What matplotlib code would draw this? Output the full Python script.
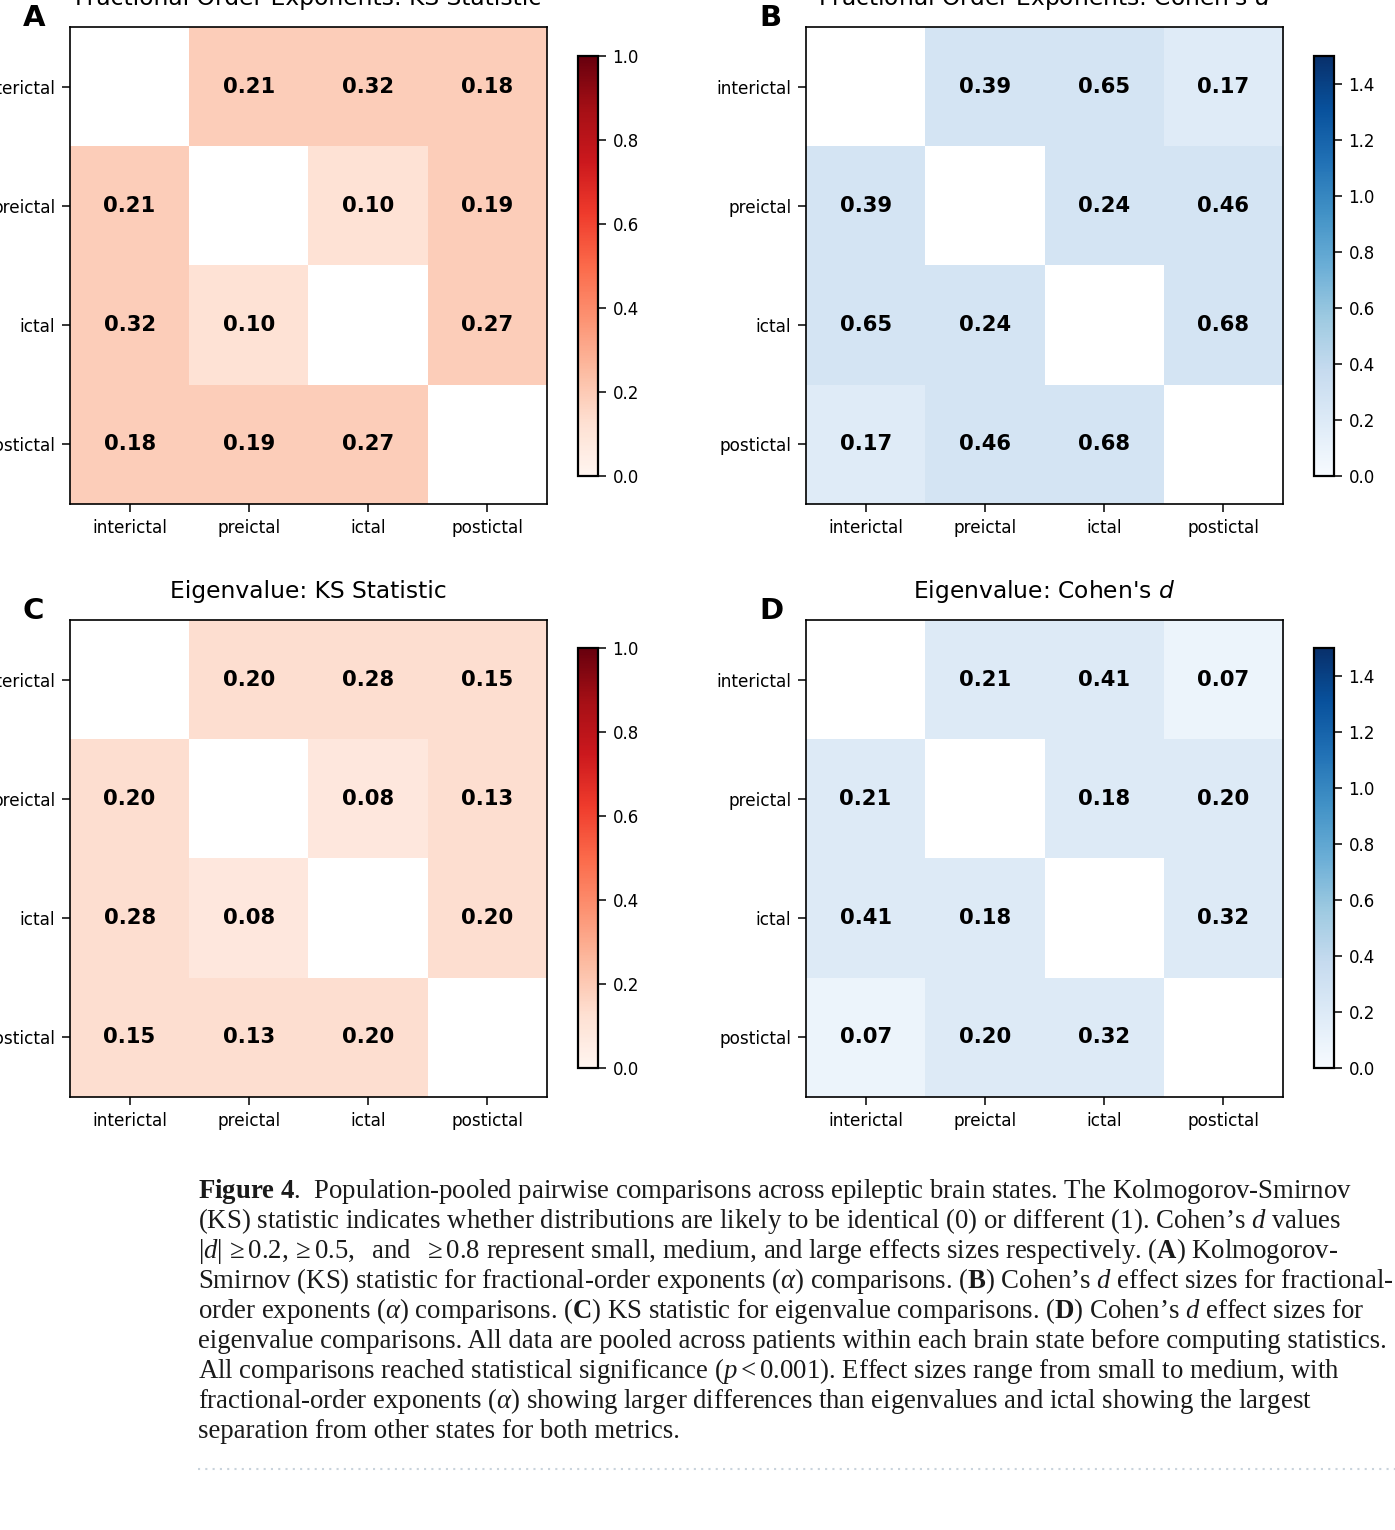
import numpy as np
import matplotlib
matplotlib.use("Agg")
import matplotlib.pyplot as plt
from matplotlib.lines import Line2D

# ---------------- data ----------------
states = ["interictal", "preictal", "ictal", "postictal"]
nan = np.nan

# annotated values
alpha_ks = [[nan, 0.21, 0.32, 0.18],
            [0.21, nan, 0.10, 0.19],
            [0.32, 0.10, nan, 0.27],
            [0.18, 0.19, 0.27, nan]]
alpha_d = [[nan, 0.39, 0.65, 0.17],
           [0.39, nan, 0.24, 0.46],
           [0.65, 0.24, nan, 0.68],
           [0.17, 0.46, 0.68, nan]]
eig_ks = [[nan, 0.20, 0.28, 0.15],
          [0.20, nan, 0.08, 0.13],
          [0.28, 0.08, nan, 0.20],
          [0.15, 0.13, 0.20, nan]]
eig_d = [[nan, 0.21, 0.41, 0.07],
         [0.21, nan, 0.18, 0.20],
         [0.41, 0.18, nan, 0.32],
         [0.07, 0.20, 0.32, nan]]

# cell colour levels as they appear in the picture (on each colorbar's scale)
alpha_ks_shade = [[nan, 0.19, 0.19, 0.19],
                  [0.19, nan, 0.11, 0.19],
                  [0.19, 0.11, nan, 0.19],
                  [0.19, 0.19, 0.19, nan]]
alpha_d_shade = [[nan, 0.26, 0.26, 0.18],
                 [0.26, nan, 0.26, 0.26],
                 [0.26, 0.26, nan, 0.26],
                 [0.18, 0.26, 0.26, nan]]
eig_ks_shade = [[nan, 0.13, 0.13, 0.13],
                [0.13, nan, 0.08, 0.13],
                [0.13, 0.08, nan, 0.13],
                [0.13, 0.13, 0.13, nan]]
eig_d_shade = [[nan, 0.19, 0.19, 0.08],
               [0.19, nan, 0.19, 0.19],
               [0.19, 0.19, nan, 0.19],
               [0.08, 0.19, 0.19, nan]]

ks_ticks = [0.0, 0.2, 0.4, 0.6, 0.8, 1.0]
d_ticks = [0.0, 0.2, 0.4, 0.6, 0.8, 1.0, 1.2, 1.4]

caption_lines = [
    r"$\mathbf{Figure\ 4}$.  Population-pooled pairwise comparisons across epileptic brain states. The Kolmogorov-Smirnov",
    r"(KS) statistic indicates whether distributions are likely to be identical (0) or different (1). Cohen’s $d$ values",
    r"$|d|\,\geq 0.2, \geq 0.5,$  and  $\geq 0.8$ represent small, medium, and large effects sizes respectively. ($\mathbf{A}$) Kolmogorov-",
    r"Smirnov (KS) statistic for fractional-order exponents ($\alpha$) comparisons. ($\mathbf{B}$) Cohen’s $d$ effect sizes for fractional-",
    r"order exponents ($\alpha$) comparisons. ($\mathbf{C}$) KS statistic for eigenvalue comparisons. ($\mathbf{D}$) Cohen’s $d$ effect sizes for",
    r"eigenvalue comparisons. All data are pooled across patients within each brain state before computing statistics.",
    r"All comparisons reached statistical significance ($p < 0.001$). Effect sizes range from small to medium, with",
    r"fractional-order exponents ($\alpha$) showing larger differences than eigenvalues and ictal showing the largest",
    r"separation from other states for both metrics.",
]

# ---------------- figure ----------------
plt.rcParams["mathtext.rm"] = "Liberation Serif"
plt.rcParams["mathtext.it"] = "Liberation Serif:italic"
plt.rcParams["mathtext.bf"] = "Liberation Serif:bold"

W, H = 1395, 1530
fig = plt.figure(figsize=(W / 100, H / 100), dpi=100)
fig.patch.set_facecolor("white")


def rect(x0, y0, x1, y1):
    return [x0 / W, 1 - y1 / H, (x1 - x0) / W, (y1 - y0) / H]


panels = [
    ("A", "Fractional Order Exponents: KS Statistic", alpha_ks, alpha_ks_shade, "Reds", 1.0, ks_ticks,
     (70, 27, 547, 504), (578, 56, 598, 476), (23, 26)),
    ("B", "Fractional Order Exponents: Cohen's $d$", alpha_d, alpha_d_shade, "Blues", 1.5, d_ticks,
     (806, 27, 1283, 504), (1314, 56, 1334, 476), (759, 26)),
    ("C", "Eigenvalue: KS Statistic", eig_ks, eig_ks_shade, "Reds", 1.0, ks_ticks,
     (70, 620, 547, 1097), (578, 648, 598, 1068), (23, 619)),
    ("D", "Eigenvalue: Cohen's $d$", eig_d, eig_d_shade, "Blues", 1.5, d_ticks,
     (806, 620, 1283, 1097), (1314, 648, 1334, 1068), (759, 619)),
]

for letter, title, vals, shade, cmap_name, vmax, cticks, apos, cpos, lpos in panels:
    ax = fig.add_axes(rect(*apos))
    cmap = plt.get_cmap(cmap_name).copy()
    cmap.set_bad("white")
    data = np.ma.masked_invalid(np.array(shade, dtype=float))
    im = ax.imshow(data, cmap=cmap, vmin=0, vmax=vmax, aspect="auto", interpolation="nearest")
    v = np.array(vals, dtype=float)
    for i in range(len(states)):
        for j in range(len(states)):
            if not np.isnan(v[i, j]):
                ax.text(j, i, f"{v[i, j]:.2f}", ha="center", va="center",
                        fontsize=15.2, fontweight="bold", color="black")
    ax.set_xticks(range(len(states)))
    ax.set_yticks(range(len(states)))
    ax.set_xticklabels(states, fontsize=12.2)
    ax.set_yticklabels(states, fontsize=12.2)
    ax.tick_params(length=5.5, width=1.1, pad=5, colors="black")
    for s in ax.spines.values():
        s.set_linewidth(1.2)
        s.set_color("black")
    ax.set_title(title, fontsize=16.8, pad=16)

    cax = fig.add_axes(rect(*cpos))
    cb = fig.colorbar(im, cax=cax)
    cb.set_ticks(cticks)
    cb.ax.tick_params(labelsize=12, length=5.5, width=1.1, pad=5)
    cb.outline.set_linewidth(1.6)
    cb.outline.set_edgecolor("black")

    fig.text(lpos[0] / W, 1 - lpos[1] / H, letter, fontsize=21, fontweight="bold",
             ha="left", va="baseline")

# caption
y0 = 1198
for k, line in enumerate(caption_lines):
    fig.text(198 / W, 1 - (y0 + 30 * k) / H, line, fontsize=19.3,
             family="Liberation Serif", math_fontfamily="custom",
             ha="left", va="baseline", color="#1a1a1a")

fig.add_artist(Line2D([198 / W, 1.0], [1 - 1469 / H, 1 - 1469 / H], transform=fig.transFigure,
                      color="#c9d3dc", linewidth=1.5, linestyle=(0, (1, 2.5))))

fig.savefig("out.png", dpi=100, facecolor="white")
